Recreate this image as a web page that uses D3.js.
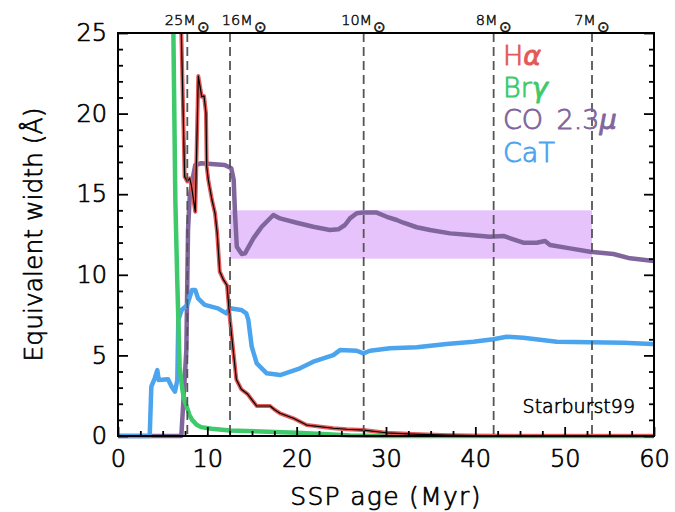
<!DOCTYPE html>
<html>
<head>
<meta charset="utf-8">
<script src="https://cdn.jsdelivr.net/npm/d3@7"></script>
<style>
  html, body { margin: 0; padding: 0; background: #fff; }
  svg { display: block; }
  text { font-family: "DejaVu Sans", sans-serif; font-weight: 200; }
</style>
</head>
<body>
<svg id="chart" width="675" height="512"></svg>
<script>
// ---------------- data ----------------
const xTicks = [0, 10, 20, 30, 40, 50, 60];
const yTicks = [0, 5, 10, 15, 20, 25];

// stellar-mass lifetime markers (top axis)
const massAges   = [7.76, 12.54, 27.5, 42.05, 53.06];
const massLabels = ["25", "16", "10", "8", "7"];

// CO 2.3 micron observed band
const bandAges = [12.54, 53.06];
const bandEW   = [11, 14];

// H-alpha
const haAge = [6.9, 7.09, 7.46, 7.76, 8.03, 8.23, 8.65, 8.99, 9.37, 9.63, 9.85, 9.93, 10.11, 10.52, 10.86, 11.1, 11.39, 11.8, 12.2, 12.5, 12.88, 13.25, 13.8, 14.5, 15.15, 15.53, 17.02, 17.58, 18.14, 19.63, 21.12, 24.1, 25.6, 27.5, 30, 33, 37, 40, 45, 50, 60];
const haEW  = [30, 25, 16.09, 15.79, 15.99, 15.5, 13.91, 22.33, 21.05, 21.09, 20.02, 16.71, 15.88, 14.64, 13.82, 12.6, 10.2, 9.7, 9.35, 7.4, 5.4, 3.5, 2.9, 2.6, 2.13, 1.86, 1.86, 1.61, 1.41, 1.1, 0.68, 0.48, 0.42, 0.37, 0.2, 0.12, 0.05, 0.02, 0, 0, 0];

// Br-gamma
const brgAge = [6.0, 6.2, 6.42, 6.64, 6.9, 7.2, 7.45, 7.7, 8.0, 8.3, 8.8, 9.3, 10.5, 12.5, 16, 20, 24, 26, 30, 40, 50, 60];
const brgEW  = [32, 25, 14.6, 9.5, 4.3, 2.9, 2.2, 1.8, 1.3, 1.0, 0.7, 0.55, 0.45, 0.34, 0.28, 0.2, 0.1, 0.03, 0, 0, 0, 0];

// CO 2.3 micron
const coAge = [0, 7.09, 7.65, 7.84, 8.03, 8.40, 8.65, 9.32, 11.94, 12.68, 12.95, 13.1, 13.3, 13.85, 14.22, 15.15, 16.09, 17.39, 18.13, 20.0, 21.86, 23.73, 24.66, 25.41, 25.97, 26.72, 27.46, 28.96, 30.08, 31.2, 31.94, 33.44, 34.93, 37.17, 39.4, 41.64, 43.13, 45.37, 46.87, 47.8, 48.36, 50.6, 52.84, 55.45, 57.32, 59.74, 60];
const coEW  = [0, 0, 5.33, 12.78, 14.85, 16.09, 16.81, 16.92, 16.81, 16.61, 15.9, 13.8, 11.74, 11.29, 11.33, 12.26, 12.98, 13.71, 13.50, 13.23, 12.98, 12.78, 12.82, 13.09, 13.50, 13.82, 13.86, 13.86, 13.60, 13.40, 13.23, 12.95, 12.78, 12.57, 12.47, 12.36, 12.41, 11.99, 11.99, 12.10, 11.85, 11.64, 11.43, 11.29, 11.02, 10.87, 10.85];

// Ca triplet
const catAge = [0, 3.55, 3.73, 4.11, 4.40, 4.56, 5.60, 6.01, 6.38, 6.64, 6.75, 7.13, 7.76, 8.28, 8.65, 8.96, 9.71, 11.19, 12.12, 12.50, 13.80, 14.36, 14.59, 14.97, 15.53, 16.65, 18.14, 20.37, 21.86, 24.1, 24.85, 26.72, 27.46, 28.21, 30.45, 33.44, 36.8, 39.77, 42.01, 43.51, 45.37, 49.11, 52.84, 56.57, 59.74, 60];
const catEW  = [0, 0, 3.06, 3.58, 4.09, 3.47, 3.52, 3.06, 2.75, 3.47, 7.20, 7.82, 8.13, 9.06, 9.06, 8.54, 8.13, 7.92, 7.61, 7.92, 7.82, 7.61, 7.20, 5.54, 4.51, 3.89, 3.78, 4.20, 4.61, 5.02, 5.33, 5.29, 5.13, 5.29, 5.44, 5.50, 5.71, 5.85, 6.0, 6.16, 6.10, 5.85, 5.81, 5.79, 5.71, 5.7];

// ---------------- layout ----------------
const W = 675, H = 512;
const m = { left: 118, right: 21, top: 33, bottom: 76 };
const svg = d3.select("#chart");

const x = d3.scaleLinear().domain([0, 60]).range([m.left, W - m.right]);
const y = d3.scaleLinear().domain([0, 25]).range([H - m.bottom, m.top]);

const C = { ha: "#e25a57", brg: "#3ec96b", co: "#80669c", cat: "#4ba4ee", band: "#e6c3fb" };

// thicken the extra-light face slightly with a same-colour stroke
function weight(sel, w) {
  sel.attr("stroke", function () { return d3.select(this).attr("fill"); })
     .attr("stroke-width", w).attr("stroke-linejoin", "round");
}

svg.append("defs").append("clipPath").attr("id", "clip")
  .append("rect")
  .attr("x", x(0)).attr("y", y(25))
  .attr("width", x(60) - x(0)).attr("height", y(0) - y(25) + 3);

// band
svg.append("rect")
  .attr("x", x(bandAges[0])).attr("y", y(bandEW[1]))
  .attr("width", x(bandAges[1]) - x(bandAges[0]))
  .attr("height", y(bandEW[0]) - y(bandEW[1]))
  .attr("fill", C.band);

const plot = svg.append("g").attr("clip-path", "url(#clip)");
const mk = (ages, vals) => ages.map((a, i) => [a, vals[i]]);
const line = d3.line().x(d => x(d[0])).y(d => y(d[1]));

function draw(data, color, w) {
  plot.append("path").datum(data)
    .attr("d", line).attr("fill", "none")
    .attr("stroke", color).attr("stroke-width", w)
    .attr("stroke-linejoin", "round").attr("stroke-linecap", "round");
}
draw(mk(coAge, coEW), C.co, 4.5);
draw(mk(catAge, catEW), C.cat, 4.5);
draw(mk(brgAge, brgEW), C.brg, 4.5);
draw(mk(haAge, haEW), C.ha, 4);
draw(mk(haAge, haEW), "#000", 1.2);

// dashed mass lines
svg.append("g").selectAll("line").data(massAges).join("line")
  .attr("x1", d => x(d)).attr("x2", d => x(d))
  .attr("y1", y(25)).attr("y2", y(0))
  .attr("stroke", "#555").attr("stroke-width", 1.8)
  .attr("stroke-dasharray", "9,5");

// top mass labels (nudged right when they would collide)
const ml = svg.append("g").selectAll("text").data(massAges).join("text")
  .attr("x", d => x(d)).attr("y", 25)
  .attr("text-anchor", "middle")
  .attr("font-size", 14.5).attr("fill", "#111");
ml.append("tspan").text((d, i) => massLabels[i] + "M");
ml.append("tspan").attr("font-size", 15).attr("dx", 1).attr("dy", 7).text("\u2299");
weight(ml, 0.5);
let prevRight = -Infinity;
ml.each(function () {
  const b = this.getBBox();
  let shift = 0;
  if (b.x < prevRight + 12) shift = prevRight + 12 - b.x;
  d3.select(this).attr("x", +d3.select(this).attr("x") + shift);
  prevRight = b.x + b.width + shift;
});

// axes
function styleAxis(g) {
  g.select(".domain").remove();
  g.selectAll(".tick line").attr("stroke", "#000").attr("stroke-width", 1.8);
  g.selectAll(".tick text").attr("font-family", "DejaVu Sans, sans-serif")
    .attr("font-weight", 200)
    .attr("font-size", 24).attr("fill", "#000")
    .call(weight, 0.7);
}
const xMinor = d3.range(0, 60.01, 2.5).filter(v => v % 10 !== 0);
const yMinor = d3.range(0, 25.01, 1).filter(v => v % 5 !== 0);

svg.append("g").attr("transform", `translate(0,${y(0)})`)
  .call(d3.axisBottom(x).tickValues(xTicks).tickSize(-9).tickPadding(14).tickFormat(d3.format("d")))
  .call(styleAxis);
svg.append("g").attr("transform", `translate(0,${y(0)})`)
  .call(d3.axisBottom(x).tickValues(xMinor).tickSize(-5).tickFormat(""))
  .call(styleAxis);
svg.append("g").attr("transform", `translate(${x(0)},0)`)
  .call(d3.axisLeft(y).tickValues(yTicks).tickSize(-10).tickPadding(11).tickFormat(d3.format("d")))
  .call(styleAxis);
svg.append("g").attr("transform", `translate(${x(0)},0)`)
  .call(d3.axisLeft(y).tickValues(yMinor).tickSize(-5).tickFormat(""))
  .call(styleAxis);
svg.append("g").attr("transform", `translate(${x(60)},0)`)
  .call(d3.axisRight(y).tickValues(yTicks).tickSize(-10).tickFormat(""))
  .call(styleAxis);
svg.append("g").attr("transform", `translate(${x(60)},0)`)
  .call(d3.axisRight(y).tickValues(yMinor).tickSize(-5).tickFormat(""))
  .call(styleAxis);

// frame
svg.append("rect")
  .attr("x", x(0)).attr("y", y(25))
  .attr("width", x(60) - x(0)).attr("height", y(0) - y(25))
  .attr("fill", "none").attr("stroke", "#000").attr("stroke-width", 2);

// axis titles
svg.append("text")
  .attr("x", (x(0) + x(60)) / 2).attr("y", 505)
  .attr("text-anchor", "middle").attr("font-size", 25).attr("fill", "#000")
  .attr("letter-spacing", 1.3)
  .text("SSP age (Myr)")
  .call(weight, 0.7);
svg.append("text")
  .attr("transform", `translate(42,${(y(0) + y(25)) / 2}) rotate(-90)`)
  .attr("text-anchor", "middle").attr("font-size", 25).attr("fill", "#000")
  .text("Equivalent width (\u00C5)")
  .call(weight, 0.7);

// legend
const legend = [
  { t: "H", g: "\u03B1", c: C.ha },
  { t: "Br", g: "\u03B3", c: C.brg },
  { t: "CO\u20022.3", g: "\u03BC", c: C.co },
  { t: "CaT", g: "", c: C.cat }
];
const lg = svg.append("g").selectAll("text").data(legend).join("text")
  .attr("x", 503).attr("y", (d, i) => 65 + i * 32.2)
  .attr("font-size", 27).attr("fill", d => d.c);
lg.append("tspan").text(d => d.t);
lg.append("tspan").attr("font-style", "italic").text(d => d.g);
weight(lg, 0.9);

// model label
svg.append("text")
  .attr("x", 635).attr("y", 413)
  .attr("text-anchor", "end").attr("font-size", 19).attr("fill", "#000")
  .text("Starburst99")
  .call(weight, 0.6);
</script>
</body>
</html>
